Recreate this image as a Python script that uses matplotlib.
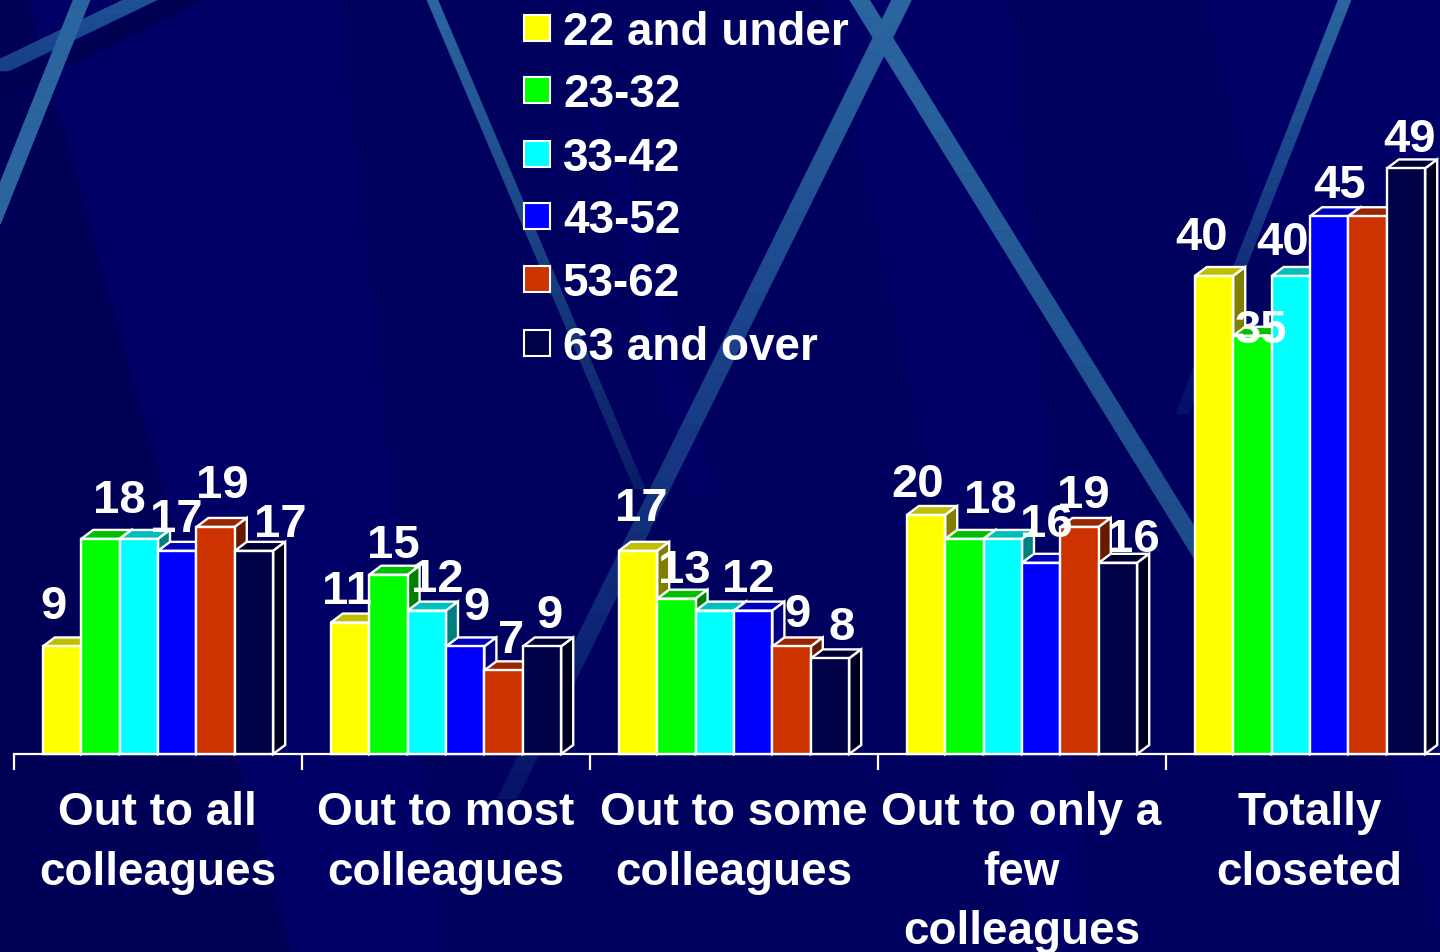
import numpy as np
import matplotlib
matplotlib.use('Agg')
import matplotlib.pyplot as plt
from matplotlib.patches import Polygon, Rectangle
from matplotlib.colors import to_rgb

categorias = ['Out to all\ncolleagues', 'Out to most\ncolleagues', 'Out to some\ncolleagues',
              'Out to only a\nfew\ncolleagues', 'Totally\ncloseted']
faixas = ['22 and under', '23-32', '33-42', '43-52', '53-62', '63 and over']
cores = ['#FFFF00', '#00FF00', '#00FFFF', '#0000FF', '#CC3300', '#000046']

ate_22 = [9, 11, 17, 20, 40]
de_23 = [18, 15, 13, 18, 35]
de_33 = [18, 12, 12, 18, 40]
de_43 = [17, 9, 12, 16, 45]
de_53 = [19, 7, 9, 19, 45]
de_63 = [17, 9, 8, 16, 49]
series = [ate_22, de_23, de_33, de_43, de_53, de_63]

# rotulos que nao aparecem no slide original (faixa, categoria)
sem_rotulo = [(2, 0), (2, 2), (2, 3), (4, 4)]

# ajuste fino de cada rotulo em pixels, (dx, dy) a partir do topo da barra
ajustes = {
    (0, 0): (-8, 40), (1, 0): (19, 39), (3, 0): (-1, 32), (4, 0): (7, 42), (5, 0): (26, 27),
    (0, 1): (-3, 32), (1, 1): (5, 30), (2, 1): (11, 32), (3, 1): (11, 39), (4, 1): (8, 30), (5, 1): (7, 31),
    (0, 2): (3, 43), (1, 2): (8, 29), (3, 2): (-5, 32), (4, 2): (6, 32), (5, 2): (12, 31),
    (0, 3): (-8, 31), (1, 3): (26, 39), (3, 3): (5, 39), (4, 3): (4, 32), (5, 3): (15, 24),
    (0, 4): (-12, 39), (1, 4): (9, 6), (2, 4): (-8, 34), (3, 4): (10, 31), (5, 4): (4, 29),
}

FONTE = 'Liberation Sans'
W, H = 1440, 953
BASE_Y = 755
PX_POR_UNIDADE = 11.95
PX_POR_GRUPO = 288.0
LARGURA = 38.4 / PX_POR_GRUPO
DX = 12 / PX_POR_GRUPO
DY = 9 / PX_POR_UNIDADE

fig = plt.figure(figsize=(14.4, 9.53), dpi=100, facecolor='#00005E')

# fundo do slide, em pixels
fundo = fig.add_axes([0, 0, 1, 1])
fundo.set_xlim(0, W)
fundo.set_ylim(H, 0)
fundo.axis('off')
fundo.set_zorder(0)
paineis = [
    ([(0, 0), (28, 0), (291, 953), (0, 953)], '#000056'),
    ([(28, 0), (340, 0), (443, 953), (291, 953)], '#000066'),
    ([(580, 80), (625, 170), (720, 500), (690, 500)], '#000066'),
    ([(825, 0), (1010, 0), (1090, 953), (1034, 953)], '#000066'),
    ([(1203, 0), (1440, 0), (1440, 953), (1380, 700)], '#000066'),
    ([(205, 0), (160, 0), (0, 82), (0, 100)], '#000050'),
]
for pts, c in paineis:
    fundo.add_patch(Polygon(pts, closed=True, fc=c, ec='none'))


def faixa_fundo(p0, p1, largura, cor0, cor1, partes=30):
    # faixa diagonal que vai mudando de cor ao longo do comprimento
    p0, p1 = np.array(p0, float), np.array(p1, float)
    c0, c1 = np.array(to_rgb(cor0)), np.array(to_rgb(cor1))
    for k in range(partes):
        a = p0 + (p1 - p0) * k / partes
        b = p0 + (p1 - p0) * (k + 1) / partes
        pts = [a + (-largura / 2, 0), a + (largura / 2, 0), b + (largura / 2, 0), b + (-largura / 2, 0)]
        t = k / (partes - 1)
        c = c0 + (c1 - c0) * t
        fundo.add_patch(Polygon(pts, closed=True, fc=c, ec=c, lw=0.4))


faixa_fundo((142, 0), (-8, 72), 34, '#1F5296', '#17408A')
faixa_fundo((82, 0), (-8, 225), 17, '#2A659F', '#2A659F')
faixa_fundo((432, 0), (640, 490), 11, '#2A659F', '#0A1E68')
faixa_fundo((902, 0), (507, 800), 20, '#2A659F', '#06146A')
faixa_fundo((859, 0), (1218, 582), 20, '#2A659F', '#1C4A88')
faixa_fundo((1345, 0), (1182, 415), 13, '#2A659F', '#041068')

# eixo do grafico: uma categoria = 288 px, origem na base das barras
ax = fig.add_axes([13.5 / W, (H - BASE_Y) / H, (W - 13.5) / W, BASE_Y / H])
ax.set_zorder(1)
ax.patch.set_alpha(0)
ax.set_xlim(-0.5, -0.5 + (W - 13.5) / PX_POR_GRUPO)
ax.set_ylim(0, BASE_Y / PX_POR_UNIDADE)
for lado in ['top', 'left', 'right']:
    ax.spines[lado].set_visible(False)
ax.spines['bottom'].set_color('white')
ax.spines['bottom'].set_linewidth(1.6)
ax.set_yticks([])
ax.set_xticks(np.arange(len(categorias)) - 0.5)
ax.set_xticklabels([])
ax.tick_params(axis='x', which='major', length=11.5, width=1.6, color='white')
ax.set_xticks(np.arange(len(categorias)), minor=True)
ax.set_xticklabels(categorias, minor=True, color='white', fontsize=33, fontweight='bold',
                   family=FONTE, linespacing=1.46)
ax.tick_params(axis='x', which='minor', length=0, pad=26)


def escurece(cor, fator):
    return tuple(v * fator for v in to_rgb(cor))


z = 2
for i, valores in enumerate(series):
    x_barras = np.arange(len(categorias)) + (i - 2.5) * LARGURA + 0.5 / PX_POR_GRUPO
    for j, v in enumerate(valores):
        x0 = x_barras[j] - LARGURA / 2
        x1 = x_barras[j] + LARGURA / 2
        # frente, topo e lateral da barra em 3D
        ax.bar(x_barras[j], v, LARGURA, color=cores[i], edgecolor='white', linewidth=1.7, zorder=z + 0.2, clip_on=False)
        topo = [(x0, v), (x0 + DX, v + DY), (x1 + DX, v + DY), (x1, v)]
        lado = [(x1, 0), (x1 + DX, DY), (x1 + DX, v + DY), (x1, v)]
        ax.add_patch(Polygon(topo, closed=True, fc=escurece(cores[i], 0.75), ec='white', lw=1.7, zorder=z, clip_on=False))
        ax.add_patch(Polygon(lado, closed=True, fc=escurece(cores[i], 0.5), ec='white', lw=1.7, zorder=z, clip_on=False))
        z += 1

for i, valores in enumerate(series):
    x_barras = np.arange(len(categorias)) + (i - 2.5) * LARGURA + 0.5 / PX_POR_GRUPO
    for j, v in enumerate(valores):
        if (i, j) in sem_rotulo:
            continue
        dx, dy = ajustes[(i, j)]
        ax.annotate(str(v), (x_barras[j], v), xytext=(dx * 0.72, dy * 0.72), textcoords='offset points',
                    ha='center', va='center', color='white', fontsize=34, fontweight='bold',
                    family=FONTE, zorder=500, annotation_clip=False)

# legenda feita a mao para acompanhar as posicoes do slide
leg_y = [29, 91, 155, 217, 280, 344]
leg = fig.add_axes([0, 0, 1, 1])
leg.set_xlim(0, W)
leg.set_ylim(H, 0)
leg.axis('off')
leg.set_zorder(3)
for nome, cor, y in zip(faixas, cores, leg_y):
    leg.add_patch(Rectangle((524, y - 13), 26, 26, fc=cor, ec='white', lw=1.5))
    leg.text(563, y + 4, nome, color='white', fontsize=33, fontweight='bold', family=FONTE, ha='left', va='center')

fig.savefig('out.png', dpi=100, facecolor=fig.get_facecolor())
